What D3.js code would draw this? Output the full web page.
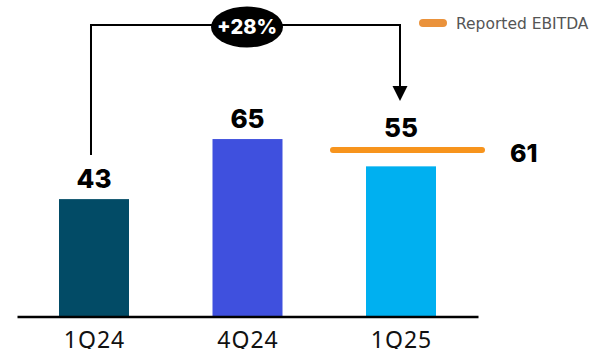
<!DOCTYPE html>
<html>
<head>
<meta charset="utf-8">
<script src="https://cdn.jsdelivr.net/npm/d3@7"></script>
<style>
  html, body { margin: 0; padding: 0; background: #fff; overflow: hidden; }
  svg { display: block; }
</style>
</head>
<body>
<svg id="chart" width="594" height="349"></svg>
<script>
// Quarterly EBITDA values
const quarters = ["1Q24", "4Q24", "1Q25"];
const ebitda = [43, 65, 55];
const barColors = ["#024B66", "#3F50DE", "#00B0F0"];
const reportedValue = 61;          // reported EBITDA for 1Q25
const reportedLabel = "Reported EBITDA";
const growthLabel = "+28%";

const W = 594, H = 349;
const baseY = 316.5;
const svg = d3.select("#chart");

const x = d3.scaleBand()
  .domain(quarters)
  .range([17, 478])
  .paddingInner(0.544)
  .paddingOuter(0.2736);

const y = d3.scaleLinear()
  .domain([0, 100])
  .range([baseY, baseY - 273]);

const boldFont = "Inter, 'Open Sans', sans-serif";

// bars
svg.append("g").selectAll("rect")
  .data(ebitda)
  .join("rect")
  .attr("x", (d, i) => x(quarters[i]))
  .attr("y", d => y(d))
  .attr("width", x.bandwidth())
  .attr("height", d => y(0) - y(d))
  .attr("fill", (d, i) => barColors[i]);

// baseline axis
const axis = svg.append("g")
  .attr("transform", `translate(0,${baseY})`)
  .call(d3.axisBottom(x).tickSize(0).tickPadding(15));
axis.select(".domain").attr("stroke", "#000").attr("stroke-width", 2.6);
axis.selectAll(".tick text")
  .attr("fill", "#111")
  .attr("dx", "0.5")
  .style("font-family", "'Noto Sans', sans-serif")
  .style("font-size", "23px")
  .style("letter-spacing", "1px")
  .style("font-weight", 400);

// value labels
svg.append("g").selectAll("text")
  .data(ebitda)
  .join("text")
  .attr("x", (d, i) => x(quarters[i]) + x.bandwidth() / 2)
  .attr("y", (d, i) => y(d) - (i === 2 ? 29 : 11))
  .attr("text-anchor", "middle")
  .style("font-family", boldFont)
  .style("font-size", "26px")
  .style("font-weight", 800)
  .attr("fill", "#000")
  .text(d => d);

// reported EBITDA line
svg.append("line")
  .attr("x1", 333).attr("x2", 482)
  .attr("y1", y(reportedValue)).attr("y2", y(reportedValue))
  .attr("stroke", "#F7941D")
  .attr("stroke-width", 6)
  .attr("stroke-linecap", "round");
svg.append("text")
  .attr("x", 510)
  .attr("y", y(reportedValue) + 12)
  .style("font-family", boldFont)
  .style("font-size", "25px")
  .style("font-weight", 800)
  .attr("fill", "#000")
  .text(reportedValue);

// growth bracket with arrow
const c1 = x(quarters[0]) + x.bandwidth() / 2 - 3;
const topY = 25;
const arrowX = 400;
svg.append("path")
  .attr("d", `M${c1},${y(ebitda[0]) - 44} V${topY} H${arrowX} V87`)
  .attr("fill", "none")
  .attr("stroke", "#000")
  .attr("stroke-width", 2);
svg.append("path")
  .attr("d", `M${arrowX - 7.5},86 L${arrowX + 7.5},86 L${arrowX},101 Z`)
  .attr("fill", "#000");

// growth badge
const badgeX = 247, badgeY = 27;
svg.append("ellipse")
  .attr("cx", badgeX).attr("cy", badgeY)
  .attr("rx", 36).attr("ry", 20.5)
  .attr("fill", "#000");
svg.append("text")
  .attr("x", badgeX).attr("y", badgeY + 7)
  .attr("text-anchor", "middle")
  .style("font-family", boldFont)
  .style("font-size", "20px")
  .style("font-weight", 800)
  .attr("fill", "#fff")
  .text(growthLabel);

// legend
const legend = svg.append("g").attr("transform", "translate(0,23)");
legend.append("line")
  .attr("x1", 423).attr("x2", 443)
  .attr("stroke", "#EA923B")
  .attr("stroke-width", 8)
  .attr("stroke-linecap", "round");
legend.append("text")
  .attr("x", 456).attr("y", 6)
  .style("font-family", "'DejaVu Sans', sans-serif")
  .style("font-size", "15.5px")
  .attr("fill", "#555")
  .text(reportedLabel);
</script>
</body>
</html>
